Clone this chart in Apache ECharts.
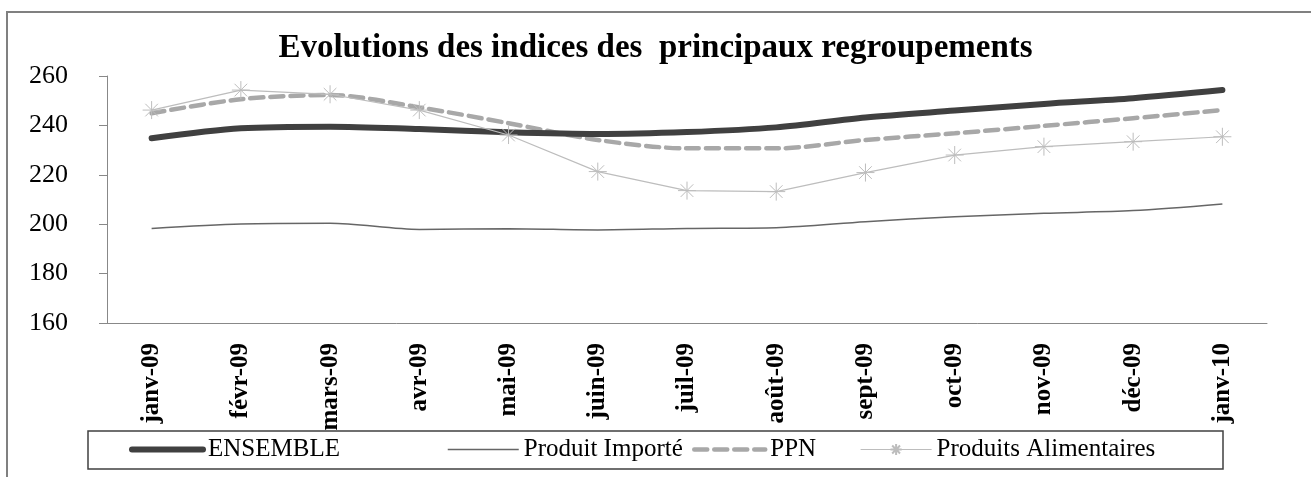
<!DOCTYPE html>
<html>
<head>
<meta charset="utf-8">
<script src="https://cdn.jsdelivr.net/npm/echarts@6/dist/echarts.min.js"></script>
<style>
  html, body { margin: 0; padding: 0; background: #fff; }
  #chart { width: 1311px; height: 477px; }
</style>
</head>
<body>
<div id="chart"></div>
<script>
// categories (mois)
var mois = ['janv-09', 'févr-09', 'mars-09', 'avr-09', 'mai-09', 'juin-09', 'juil-09',
            'août-09', 'sept-09', 'oct-09', 'nov-09', 'déc-09', 'janv-10'];

// valeurs
var ensemble = [234.8, 238.8, 239.5, 238.5, 237.2, 236.5, 237.3, 239.2, 243.2, 246.0, 248.7, 251.0, 254.3];
var produitImporte = [198.3, 200.1, 200.4, 197.9, 198.2, 197.7, 198.3, 198.6, 201.0, 203.0, 204.4, 205.5, 208.2];
var ppn = [244.9, 250.6, 252.3, 247.3, 240.9, 234.1, 230.7, 230.7, 234.1, 236.8, 239.8, 242.9, 246.2];
var produitsAlimentaires = [246.2, 254.3, 252.6, 246.2, 236.1, 221.3, 213.6, 213.2, 220.9, 228.0, 231.4, 233.4, 235.4];

var yTicks = [160, 180, 200, 220, 240, 260];
var noms = ['ENSEMBLE', 'Produit Importé', 'PPN', 'Produits Alimentaires'];

var serif = '"Liberation Serif", "DejaVu Serif", serif';
var star = 'path://M0,-10L0,10M-10,0L10,0M-7,-7L7,7M-7,7L7,-7';

// one legend per item so the spacing follows the original
var legendLeft = [129, 447, 692, 860];
var legendLines = [
    { width: 6 },
    { width: 1.5 },
    { width: 4.5 },
    { width: 1.2 }
];
var legends = noms.map(function (nom, i) {
    return {
        left: legendLeft[i],
        top: 437,
        padding: 0,
        itemWidth: 71,
        itemHeight: 14,
        textStyle: { fontFamily: serif, fontSize: 25, color: '#000' },
        data: [{
            name: nom,
            lineStyle: legendLines[i],
            itemStyle: i === 3 ? undefined : { opacity: 0 }
        }]
    };
});

var myChart = echarts.init(document.getElementById('chart'));
var option = {
    animation: false,
    backgroundColor: '#fff',
    graphic: [{
        type: 'rect',
        shape: { x: 7, y: 12, width: 1330, height: 490 },
        style: { fill: 'none', stroke: '#808080', lineWidth: 2 }
    }, {
        type: 'rect',
        shape: { x: 88, y: 431, width: 1135, height: 38 },
        style: { fill: 'none', stroke: '#404040', lineWidth: 1.5 }
    }],
    title: {
        text: 'Evolutions des indices des  principaux regroupements',
        left: 'center',
        top: 27,
        textStyle: { fontFamily: serif, fontWeight: 'bold', fontSize: 33, color: '#000' }
    },
    legend: legends,
    grid: { left: 107, right: 44, top: 76, bottom: 154 },
    xAxis: [{
        type: 'category',
        data: mois,
        boundaryGap: true,
        axisLine: { lineStyle: { color: '#888', width: 1 } },
        axisTick: { inside: true, length: 5, lineStyle: { color: '#888' } },
        axisLabel: {
            rotate: 90, margin: 20, interval: 0,
            fontFamily: serif, fontWeight: 'bold', fontSize: 25, color: '#000'
        },
        splitLine: { show: false }
    }, {
        type: 'category',
        data: mois,
        position: 'bottom',
        boundaryGap: true,
        axisLine: { show: false },
        axisTick: { alignWithLabel: true, inside: true, length: 5, lineStyle: { color: '#888' } },
        axisLabel: { show: false },
        splitLine: { show: false }
    }],
    yAxis: {
        type: 'value',
        min: yTicks[0],
        max: yTicks[yTicks.length - 1],
        interval: 20,
        axisLine: { show: true, lineStyle: { color: '#888', width: 1 } },
        axisTick: { show: true, length: 8, lineStyle: { color: '#888' } },
        axisLabel: { margin: 39, fontFamily: serif, fontSize: 26, color: '#000' },
        splitLine: { show: false }
    },
    series: [{
        name: 'ENSEMBLE',
        type: 'line',
        data: ensemble,
        smooth: 0.3,
        symbol: 'none',
        lineStyle: { color: '#404040', width: 6, cap: 'round' },
        itemStyle: { color: '#404040' },
        z: 4
    }, {
        name: 'Produit Importé',
        type: 'line',
        data: produitImporte,
        smooth: 0.3,
        symbol: 'none',
        lineStyle: { color: '#666', width: 1.5 },
        itemStyle: { color: '#666' },
        z: 2
    }, {
        name: 'PPN',
        type: 'line',
        data: ppn,
        smooth: 0.3,
        symbol: 'none',
        lineStyle: { color: '#a8a8a8', width: 4.5, type: [13, 7], cap: 'round' },
        itemStyle: { color: '#a8a8a8' },
        z: 3
    }, {
        name: 'Produits Alimentaires',
        type: 'line',
        data: produitsAlimentaires,
        symbol: star,
        symbolSize: 18,
        lineStyle: { color: '#bdbdbd', width: 1.2 },
        itemStyle: { color: 'none', borderColor: '#bdbdbd', borderWidth: 1 },
        z: 5
    }]
};
myChart.setOption(option);
</script>
</body>
</html>
